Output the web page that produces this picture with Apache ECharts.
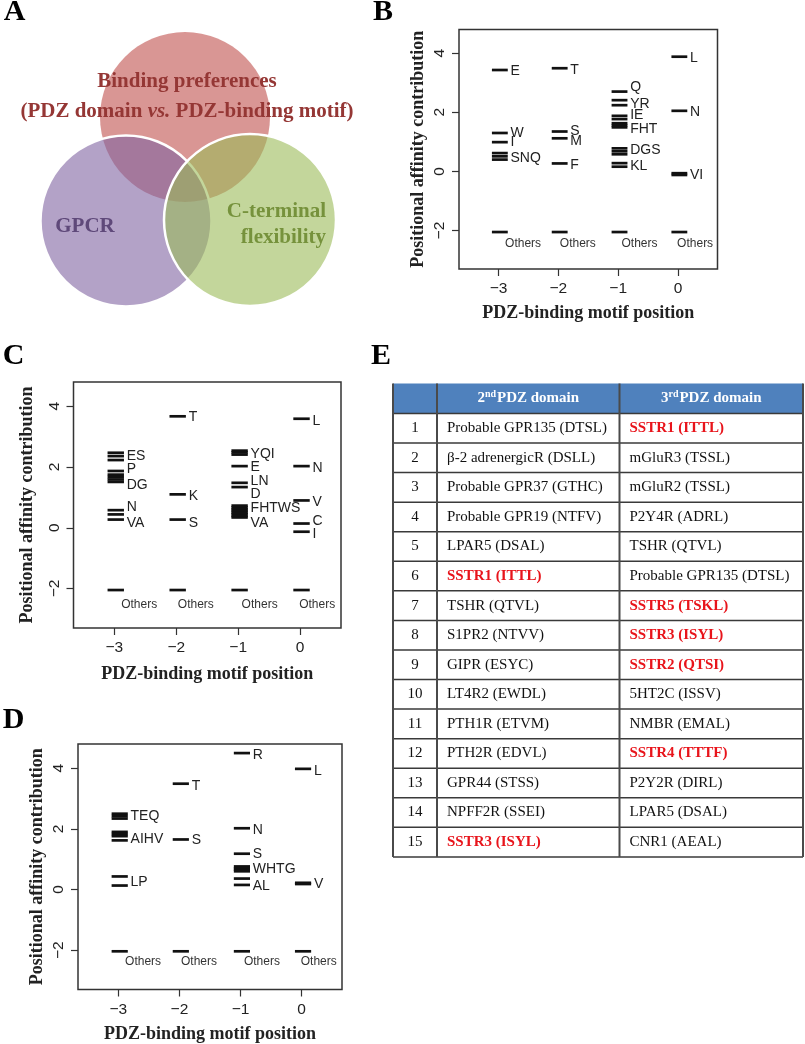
<!DOCTYPE html>
<html><head><meta charset="utf-8">
<script src="https://cdn.jsdelivr.net/npm/echarts@6/dist/echarts.min.js"></script>
<style>html,body{margin:0;padding:0;background:#fff}#c{width:805px;height:1044px}</style>
</head><body><div id="c"></div>
<script>
// ---------- DATA ----------
const positions = [-3, -2, -1, 0];
const yTicks = [-2, 0, 2, 4];

// Panel B: [position, contribution]
const segB = [
  [-3, 3.43], [-3, 1.30], [-3, 0.99], [-3, 0.62], [-3, 0.51], [-3, 0.40], [-3, -2.05],
  [-2, 3.49], [-2, 1.35], [-2, 1.12], [-2, 0.27], [-2, -2.05],
  [-1, 2.70], [-1, 2.41], [-1, 2.24], [-1, 1.88], [-1, 1.77], [-1, 1.63], [-1, 1.56], [-1, 1.49],
  [-1, 0.78], [-1, 0.68], [-1, 0.58], [-1, 0.28], [-1, 0.16], [-1, -2.05],
  [0, 3.88], [0, 2.05], [0, -0.06], [0, -0.12], [0, -2.05]
];
const labB = [
  [-3, 3.38, 'E'], [-3, 1.29, 'W'], [-3, 0.99, 'I'], [-3, 0.45, 'SNQ'],
  [-2, 3.43, 'T'], [-2, 1.37, 'S'], [-2, 1.01, 'M'], [-2, 0.22, 'F'],
  [-1, 2.84, 'Q'], [-1, 2.27, 'YR'], [-1, 1.89, 'IE'], [-1, 1.43, 'FHT'], [-1, 0.73, 'DGS'], [-1, 0.18, 'KL'],
  [0, 3.83, 'L'], [0, 2.00, 'N'], [0, -0.11, 'VI']
];
const othersB = -2.46;

// Panel C
const segC = [
  [-3, 2.47], [-3, 2.36], [-3, 2.23], [-3, 1.87], [-3, 1.75], [-3, 1.67], [-3, 1.59], [-3, 1.51],
  [-3, 0.58], [-3, 0.44], [-3, 0.27], [-3, -2.05],
  [-2, 3.67], [-2, 1.10], [-2, 0.27], [-2, -2.05],
  [-1, 2.54], [-1, 2.48], [-1, 2.41], [-1, 2.03], [-1, 1.48], [-1, 1.34],
  [-1, 0.73], [-1, 0.67], [-1, 0.61], [-1, 0.56], [-1, 0.50], [-1, 0.45], [-1, 0.39], [-1, 0.34], [-1, -2.05],
  [0, 3.59], [0, 2.03], [0, 0.90], [0, 0.14], [0, -0.13], [0, -2.05]
];
const labC = [
  [-3, 2.36, 'ES'], [-3, 1.92, 'P'], [-3, 1.41, 'DG'], [-3, 0.68, 'N'], [-3, 0.16, 'VA'],
  [-2, 3.65, 'T'], [-2, 1.04, 'K'], [-2, 0.16, 'S'],
  [-1, 2.44, 'YQI'], [-1, 2.00, 'E'], [-1, 1.54, 'LN'], [-1, 1.12, 'D'], [-1, 0.66, 'FHTWS'], [-1, 0.16, 'VA'],
  [0, 3.52, 'L'], [0, 1.95, 'N'], [0, 0.85, 'V'], [0, 0.22, 'C'], [0, -0.22, 'I']
];
const othersC = -2.53;

// Panel D
const segD = [
  [-3, 2.50], [-3, 2.42], [-3, 2.34], [-3, 1.90], [-3, 1.83], [-3, 1.76], [-3, 1.62],
  [-3, 0.43], [-3, 0.13], [-3, -2.04],
  [-2, 3.49], [-2, 1.65], [-2, -2.04],
  [-1, 4.50], [-1, 2.02], [-1, 1.18], [-1, 0.76], [-1, 0.70], [-1, 0.65], [-1, 0.60],
  [-1, 0.36], [-1, 0.15], [-1, -2.04],
  [0, 3.98], [0, 0.22], [0, 0.18], [0, -2.04]
];
const labD = [
  [-3, 2.41, 'TEQ'], [-3, 1.67, 'AIHV'], [-3, 0.24, 'LP'],
  [-2, 3.41, 'T'], [-2, 1.62, 'S'],
  [-1, 4.42, 'R'], [-1, 1.97, 'N'], [-1, 1.18, 'S'], [-1, 0.68, 'WHTG'], [-1, 0.10, 'AL'],
  [0, 3.89, 'L'], [0, 0.17, 'V']
];
const othersD = -2.37;

// Panel E table
const rowNumbers = [1, 2, 3, 4, 5, 6, 7, 8, 9, 10, 11, 12, 13, 14, 15];
const pdz2 = ['Probable GPR135 (DTSL)', 'β-2 adrenergicR (DSLL)', 'Probable GPR37 (GTHC)', 'Probable GPR19 (NTFV)',
  'LPAR5 (DSAL)', 'SSTR1 (ITTL)', 'TSHR (QTVL)', 'S1PR2 (NTVV)', 'GIPR (ESYC)', 'LT4R2 (EWDL)',
  'PTH1R (ETVM)', 'PTH2R (EDVL)', 'GPR44 (STSS)', 'NPFF2R (SSEI)', 'SSTR3 (ISYL)'];
const pdz3 = ['SSTR1 (ITTL)', 'mGluR3 (TSSL)', 'mGluR2 (TSSL)', 'P2Y4R (ADRL)', 'TSHR (QTVL)',
  'Probable GPR135 (DTSL)', 'SSTR5 (TSKL)', 'SSTR3 (ISYL)', 'SSTR2 (QTSI)', '5HT2C (ISSV)',
  'NMBR (EMAL)', 'SSTR4 (TTTF)', 'P2Y2R (DIRL)', 'LPAR5 (DSAL)', 'CNR1 (AEAL)'];

// ---------- CHART ----------
const SANS = 'Liberation Sans', SERIF = 'Liberation Serif';
const fmt = v => (v < 0 ? '\u2212' + Math.abs(v) : String(v));
const othersOffset = [0.11, 0.025, 0.055, -0.015];

function xAxis(i, gap) {
  return {
    gridIndex: i, type: 'value', min: -3.66, max: 0.66, position: 'bottom',
    axisLine: { show: false, onZero: false }, splitLine: { show: false },
    axisTick: { show: true, length: 7, customValues: positions, lineStyle: { color: '#333', width: 1.2 } },
    axisLabel: { customValues: positions, formatter: fmt, fontSize: 15.5, color: '#222', fontFamily: SANS, margin: 12 },
    name: 'PDZ-binding motif position', nameLocation: 'middle', nameGap: gap,
    nameTextStyle: { fontFamily: SERIF, fontWeight: 'bold', fontSize: 18, color: '#222' }
  };
}
function yAxis(i, gap) {
  return {
    gridIndex: i, type: 'value', min: -3.3, max: 4.8, position: 'left',
    axisLine: { show: false, onZero: false }, splitLine: { show: false },
    axisTick: { show: true, length: 7, customValues: yTicks, lineStyle: { color: '#333', width: 1.2 } },
    axisLabel: { customValues: yTicks, formatter: fmt, fontSize: 15.5, color: '#222', fontFamily: SANS, rotate: 90, margin: 11 },
    name: 'Positional affinity contribution', nameLocation: 'middle', nameGap: gap,
    nameTextStyle: { fontFamily: SERIF, fontWeight: 'bold', fontSize: 18, color: '#222' }
  };
}
function segSeries(i, segs) {
  return {
    type: 'custom', xAxisIndex: i, yAxisIndex: i, silent: true, clip: false,
    data: segs,
    renderItem(params, api) {
      const x = api.value(0), y = api.value(1);
      const a = api.coord([x - 0.11, y]), b = api.coord([x + 0.155, y]);
      return { type: 'line', shape: { x1: a[0], y1: a[1], x2: b[0], y2: b[1] }, style: { stroke: '#111', lineWidth: 2.7 } };
    }
  };
}
function labSeries(i, labs) {
  return {
    type: 'custom', xAxisIndex: i, yAxisIndex: i, silent: true, clip: false,
    data: labs.map(l => [l[0], l[1]]),
    renderItem(params, api) {
      const p = api.coord([api.value(0) + 0.2, api.value(1)]);
      return { type: 'text', x: p[0], y: p[1], style: { text: labs[params.dataIndex][2], fill: '#222', fontSize: 14, fontFamily: SANS, align: 'left', verticalAlign: 'middle' } };
    }
  };
}
function othersSeries(i, yv) {
  return {
    type: 'custom', xAxisIndex: i, yAxisIndex: i, silent: true, clip: false,
    data: positions.map(p => [p, yv]),
    renderItem(params, api) {
      const p = api.coord([api.value(0) + othersOffset[params.dataIndex], api.value(1)]);
      return { type: 'text', x: p[0], y: p[1], style: { text: 'Others', fill: '#333', fontSize: 12, fontFamily: SANS, align: 'left', verticalAlign: 'middle' } };
    }
  };
}

// graphic: panel letters, venn, table
const graphic = [];
function letter(t, x, y) {
  graphic.push({ type: 'text', x, y, style: { text: t, fontSize: 30, fontWeight: 'bold', fontFamily: SERIF, fill: '#000', align: 'center', verticalAlign: 'middle' } });
}
letter('A', 14.5, 12.5); letter('B', 383, 12.5); letter('C', 13.5, 356); letter('E', 381, 356); letter('D', 13.5, 720.5);

// Venn
graphic.push({ type: 'circle', shape: { cx: 185, cy: 117, r: 85 }, style: { fill: 'rgba(192,80,77,0.6)' } });
graphic.push({ type: 'circle', shape: { cx: 126, cy: 221, r: 85.5 }, style: { fill: 'rgba(128,100,162,0.6)', stroke: '#fff', lineWidth: 2.5 } });
graphic.push({ type: 'circle', shape: { cx: 250, cy: 220, r: 86 }, style: { fill: 'rgba(155,187,89,0.6)', stroke: '#fff', lineWidth: 2.5 } });
const vennFont = { fontSize: 21, fontWeight: 'bold', fontFamily: SERIF };
graphic.push({ type: 'text', x: 187, y: 82, style: Object.assign({ text: 'Binding preferences', fill: '#953735', align: 'center', verticalAlign: 'middle' }, vennFont) });
graphic.push({ type: 'text', x: 187, y: 112, style: {
  text: '{b|(PDZ domain }{i|vs.}{b| PDZ-binding motif)}', align: 'center', verticalAlign: 'middle',
  rich: { b: Object.assign({ fill: '#953735' }, vennFont), i: Object.assign({ fill: '#953735', fontStyle: 'italic' }, vennFont) } } });
graphic.push({ type: 'text', x: 85, y: 227, style: Object.assign({ text: 'GPCR', fill: '#5F497A', align: 'center', verticalAlign: 'middle' }, vennFont) });
graphic.push({ type: 'text', x: 326, y: 212, style: Object.assign({ text: 'C-terminal', fill: '#76923C', align: 'right', verticalAlign: 'middle' }, vennFont) });
graphic.push({ type: 'text', x: 326, y: 238, style: Object.assign({ text: 'flexibility', fill: '#76923C', align: 'right', verticalAlign: 'middle' }, vennFont) });

// Table
const T = { left: 393, top: 383.5, headH: 30, rowH: 29.56, cols: [393, 437, 619.5, 803] };
const tBottom = T.top + T.headH + T.rowH * rowNumbers.length;
graphic.push({ type: 'rect', shape: { x: T.cols[0], y: T.top, width: T.cols[3] - T.cols[0], height: T.headH }, style: { fill: '#4F81BD' } });
const headRich = { b: { fill: '#fff', fontSize: 15, fontWeight: 'bold', fontFamily: SERIF }, s: { fill: '#fff', fontSize: 10, fontWeight: 'bold', fontFamily: SERIF, padding: [0, 1, 8, 0] } };
graphic.push({ type: 'text', x: (T.cols[1] + T.cols[2]) / 2, y: T.top + T.headH / 2, style: { text: '{b|2}{s|nd}{b|PDZ domain}', rich: headRich, align: 'center', verticalAlign: 'middle' } });
graphic.push({ type: 'text', x: (T.cols[2] + T.cols[3]) / 2, y: T.top + T.headH / 2, style: { text: '{b|3}{s|rd}{b|PDZ domain}', rich: headRich, align: 'center', verticalAlign: 'middle' } });
for (let r = 0; r <= rowNumbers.length; r++) {
  const y = T.top + T.headH + T.rowH * r;
  graphic.push({ type: 'line', shape: { x1: T.cols[0], y1: y, x2: T.cols[3], y2: y }, style: { stroke: '#3a3a3a', lineWidth: 1.5 } });
}
T.cols.forEach(x => graphic.push({ type: 'line', shape: { x1: x, y1: T.top, x2: x, y2: tBottom }, style: { stroke: '#4a4a4a', lineWidth: 2 } }));
function cellStyle(txt) {
  const red = txt.indexOf('SSTR') === 0;
  return { text: txt, fill: red ? '#e8141b' : '#111', fontSize: 15, fontWeight: red ? 'bold' : 'normal', fontFamily: SERIF, align: 'left', verticalAlign: 'middle' };
}
rowNumbers.forEach((n, r) => {
  const cy = T.top + T.headH + T.rowH * (r + 0.5);
  graphic.push({ type: 'text', x: (T.cols[0] + T.cols[1]) / 2, y: cy, style: { text: String(n), fill: '#111', fontSize: 15, fontFamily: SERIF, align: 'center', verticalAlign: 'middle' } });
  graphic.push({ type: 'text', x: T.cols[1] + 10, y: cy, style: cellStyle(pdz2[r]) });
  graphic.push({ type: 'text', x: T.cols[2] + 10, y: cy, style: cellStyle(pdz3[r]) });
});

const gridStyle = { show: true, borderColor: '#333', borderWidth: 1.5, backgroundColor: 'transparent', outerBoundsMode: 'none', containLabel: false };
const option = {
  animation: false,
  grid: [
    Object.assign({ left: 459, top: 29.5, width: 258.5, height: 239.5 }, gridStyle),
    Object.assign({ left: 73.5, top: 382, width: 267.5, height: 246 }, gridStyle),
    Object.assign({ left: 78, top: 744, width: 264, height: 245.5 }, gridStyle)
  ],
  xAxis: [xAxis(0, 35), xAxis(1, 37), xAxis(2, 36)],
  yAxis: [yAxis(0, 32), yAxis(1, 37), yAxis(2, 32)],
  series: [
    segSeries(0, segB), labSeries(0, labB), othersSeries(0, othersB),
    segSeries(1, segC), labSeries(1, labC), othersSeries(1, othersC),
    segSeries(2, segD), labSeries(2, labD), othersSeries(2, othersD)
  ],
  graphic: graphic
};
const chart = echarts.init(document.getElementById('c'), null, { renderer: 'canvas' });
chart.setOption(option);
</script></body></html>
